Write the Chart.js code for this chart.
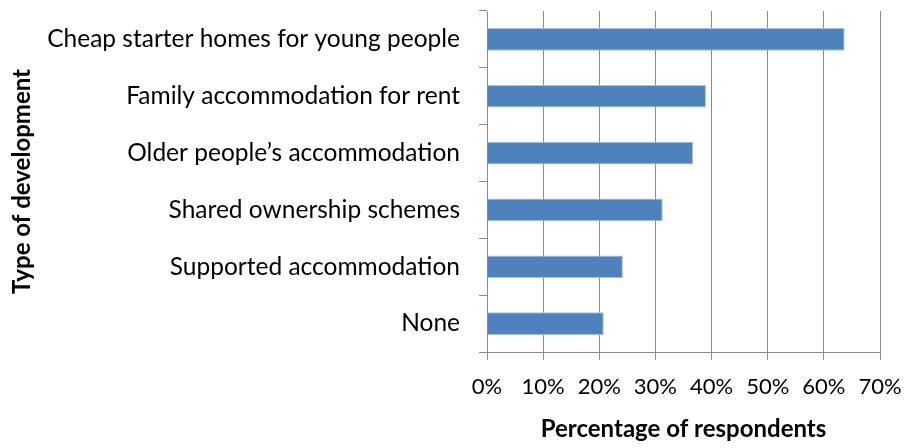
<!DOCTYPE html>
<html>
<head>
<meta charset="utf-8">
<script src="https://cdn.jsdelivr.net/npm/chart.js@4"></script>
<style>
  html, body { margin: 0; padding: 0; background: #ffffff; }
  #wrap { width: 906px; height: 448px; }
</style>
</head>
<body>
<div id="wrap"><canvas id="chart" width="906" height="448"></canvas></div>
<script>
// Types of development and the share of respondents choosing each
const categories = [
  'Cheap starter homes for young people',
  'Family accommodation for rent',
  'Older people\u2019s accommodation',
  'Shared ownership schemes',
  'Supported accommodation',
  'None'
];
const percentages = [63.7, 39.0, 36.7, 31.3, 24.2, 20.8];
const xTicks = [0, 10, 20, 30, 40, 50, 60, 70];

const FONT = 'Lato, "Open Sans", sans-serif';
const GRID = '#8c8c8c';

new Chart(document.getElementById('chart'), {
  type: 'bar',
  data: {
    labels: categories,
    datasets: [{
      data: percentages,
      backgroundColor: '#4f81bd',
      borderColor: '#a9c1e0',
      borderWidth: 1,
      categoryPercentage: 1.0,
      barPercentage: 0.4
    }]
  },
  options: {
    indexAxis: 'y',
    responsive: false,
    animation: false,
    layout: { padding: { top: 11, right: 26, bottom: 0, left: 0 } },
    plugins: { legend: { display: false }, tooltip: { enabled: false } },
    scales: {
      x: {
        min: 0,
        max: 70,
        afterBuildTicks: (scale) => { scale.ticks = xTicks.map(v => ({ value: v })); },
        afterFit: (scale) => {
          scale.height = 96;
          scale.paddingLeft = 0;
          scale.paddingRight = 0;
        },
        ticks: {
          callback: (v) => v + '%',
          color: '#000',
          font: { family: FONT, size: 22 },
          padding: 14
        },
        grid: { color: GRID, lineWidth: 1, tickLength: 8, drawOnChartArea: true },
        border: { color: GRID, width: 1 },
        title: {
          display: true,
          text: 'Percentage of respondents',
          color: '#000',
          font: { family: FONT, size: 24, weight: 'bold' },
          padding: { top: 0, bottom: 4 }
        }
      },
      y: {
        afterFit: (scale) => {
          scale.width = 487;
          scale.paddingTop = 0;
          scale.paddingBottom = 0;
        },
        ticks: {
          color: '#000',
          font: { family: FONT, size: 24.5 },
          padding: 19
        },
        grid: { color: GRID, lineWidth: 1, tickLength: 8, drawOnChartArea: false, offset: true },
        border: { color: GRID, width: 1 },
        title: {
          display: true,
          text: 'Type of development',
          color: '#000',
          font: { family: FONT, size: 24, weight: 'bold' },
          padding: { top: 8, bottom: 0 }
        }
      }
    }
  }
});
</script>
</body>
</html>
